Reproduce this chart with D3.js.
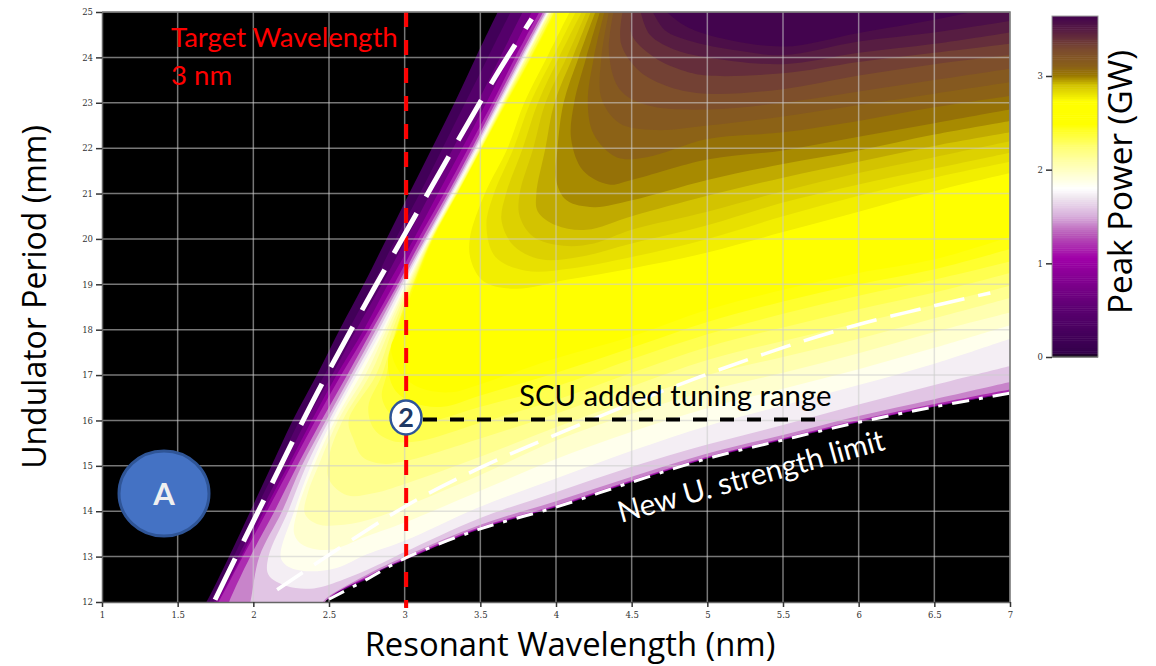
<!DOCTYPE html>
<html>
  <head>
    <meta charset="utf-8">
    <title>Peak power map</title>
    <script src="https://d3js.org/d3.v7.min.js"></script>
    <style>
      html, body { margin: 0; padding: 0; background: #fff; }
      svg { display: block; }
    </style>
  </head>
  <body>
    <script type="text/javascript">
      var xTicks = [1, 1.5, 2, 2.5, 3, 3.5, 4, 4.5, 5, 5.5, 6, 6.5, 7];
      var yTicks = [12, 13, 14, 15, 16, 17, 18, 19, 20, 21, 22, 23, 24, 25];
      var barTicks = [0, 1, 2, 3];

      // colour bar of the figure, power (GW) -> colour
      var barStops = [0, 0.03, 0.5, 1.05, 1.3, 1.5, 1.7, 1.79, 2.0, 2.2, 2.35, 2.48, 2.72, 2.9, 3.0, 3.1, 3.28, 3.46, 3.65];
      var barColors = ['#000000', '#33004a', '#5a0070', '#a000a8', '#b858b8', '#d8b0dc', '#f0e8f0', '#ffffff', '#ffffc0', '#ffff80', '#ffff40', '#ffff00', '#ffff00', '#d0c000', '#9a7800', '#8a6018', '#7a4a30', '#5a2040', '#400050'];

      // contour lines: [wavelength nm, period mm], region above each one has at least that power
      var levels = [0.1, 0.3, 0.55, 0.8, 1.05, 1.3, 1.5, 1.65, 1.8, 1.9, 2.0, 2.1, 2.2, 2.28, 2.35, 2.42, 2.48, 2.75, 2.79, 2.83, 2.87, 2.91, 2.95, 3.0, 3.06, 3.12, 3.2, 3.28, 3.36, 3.44, 3.52, 3.6];

      var p010 = [[3.615,25],[3.47,24],[3.33,23],[3.18,22],[3.03,21],[2.88,20],[2.73,19],[2.57,18],[2.42,17],[2.26,16],[2.12,15],[1.98,14],[1.84,13],[1.69,12],[1.65,11.8],[2.4,11.8],[2.44,12],[2.5,12.06],[2.59,12.25],[2.75,12.5],[2.85,12.7],[3,12.92],[3.5,13.61],[4,14.09],[4.5,14.64],[5,15.16],[5.5,15.57],[6,15.96],[6.5,16.3],[7,16.6]];
      var p030 = [[3.7,25],[3.55,24],[3.4,23],[3.25,22],[3.1,21],[2.94,20],[2.79,19],[2.63,18],[2.47,17],[2.305,16],[2.16,15],[2.01,14],[1.87,13],[1.71,12],[1.67,11.8],[2.4,11.8],[2.45,12],[2.5,12.07],[2.59,12.26],[2.75,12.51],[2.85,12.71],[3,12.925],[3.5,13.615],[4,14.095],[4.5,14.645],[5,15.165],[5.5,15.575],[6,15.965],[6.5,16.305],[7,16.605]];
      var p055 = [[3.78,25],[3.63,24],[3.48,23],[3.32,22],[3.17,21],[3.01,20],[2.85,19],[2.68,18],[2.52,17],[2.35,16],[2.2,15],[2.05,14],[1.9,13],[1.74,12],[1.7,11.8],[2.4,11.8],[2.45,12],[2.5,12.08],[2.59,12.27],[2.75,12.52],[2.85,12.72],[3,12.93],[3.5,13.62],[4,14.1],[4.5,14.65],[5,15.17],[5.5,15.58],[6,15.97],[6.5,16.31],[7,16.61]];
      var p080 = [[3.84,25],[3.69,24],[3.54,23],[3.38,22],[3.22,21],[3.06,20],[2.89,19],[2.73,18],[2.55,17],[2.385,16],[2.23,15],[2.07,14],[1.92,13],[1.76,12],[1.72,11.8],[2.4,11.8],[2.46,12],[2.5,12.08],[2.59,12.28],[2.75,12.53],[2.85,12.73],[3,12.935],[3.5,13.625],[4,14.105],[4.5,14.655],[5,15.175],[5.5,15.585],[6,15.975],[6.5,16.315],[7,16.62]];
      var p105 = [[3.89,25],[3.73,24],[3.58,23],[3.42,22],[3.26,21],[3.09,20],[2.93,19],[2.76,18],[2.58,17],[2.41,16],[2.25,15],[2.09,14],[1.93,13],[1.77,12],[1.73,11.8],[2.4,11.8],[2.46,12],[2.5,12.09],[2.59,12.29],[2.75,12.54],[2.85,12.74],[3,12.94],[3.5,13.63],[4,14.11],[4.5,14.66],[5,15.18],[5.5,15.59],[6,15.98],[6.5,16.32],[7,16.63]];
      var p130 = [[3.915,25],[3.755,24],[3.6,23],[3.445,22],[3.285,21],[3.115,20],[2.955,19],[2.785,18],[2.62,17],[2.45,16],[2.29,15],[2.14,14],[1.98,13],[1.84,12],[1.82,11.8],[2.42,11.8],[2.5,12.1],[2.75,12.56],[3,12.96],[3.5,13.65],[4,14.13],[4.5,14.68],[5,15.2],[5.5,15.61],[6,16.01],[6.5,16.36],[7,16.68]];
      var p150 = [[3.93,25],[3.77,24],[3.615,23],[3.46,22],[3.3,21],[3.135,20],[2.97,19],[2.81,18],[2.645,17],[2.48,16],[2.32,15],[2.19,14],[2.04,13],[1.98,12],[1.96,11.8],[2.4,11.85],[2.5,12.13],[2.75,12.6],[3,13],[3.5,13.7],[4,14.22],[4.5,14.76],[5,15.27],[5.5,15.68],[6,16.1],[6.5,16.47],[7,16.85]];
      var p165 = [[3.94,25],[3.78,24],[3.625,23],[3.47,22],[3.31,21],[3.145,20],[2.985,19],[2.83,18],[2.665,17],[2.5,16],[2.35,15],[2.23,14],[2.1,13],[2.1,12.6],[2.22,12.35],[2.4,12.3],[2.6,12.5],[2.8,12.78],[3,13.1],[3.5,13.85],[4,14.42],[4.5,14.98],[5,15.47],[5.5,15.9],[6,16.35],[6.5,16.78],[7,17.2]];
      var p180 = [[3.945,25],[3.79,24],[3.635,23],[3.48,22],[3.32,21],[3.155,20],[3,19],[2.85,18],[2.685,17],[2.52,16],[2.38,15],[2.27,14],[2.18,13],[2.22,12.8],[2.35,12.68],[2.55,12.75],[2.75,13.05],[3,13.35],[3.5,14.1],[4,14.72],[4.5,15.33],[5,15.88],[5.5,16.33],[6,16.78],[6.5,17.25],[7,17.8]];
      var p190 = [[3.95,25],[3.795,24],[3.64,23],[3.485,22],[3.325,21],[3.16,20],[3.01,19],[2.865,18],[2.71,17],[2.54,16],[2.4,15],[2.29,14],[2.27,13.5],[2.33,13.25],[2.5,13.15],[2.75,13.45],[3,13.75],[3.5,14.45],[4,15.15],[4.5,15.75],[5,16.27],[5.5,16.7],[6,17.13],[6.5,17.6],[7,18.1]];
      var p200 = [[3.955,25],[3.8,24],[3.645,23],[3.49,22],[3.33,21],[3.165,20],[3.02,19],[2.88,18],[2.74,17],[2.56,16],[2.43,15],[2.36,14.4],[2.34,13.95],[2.42,13.72],[2.6,13.7],[2.8,13.85],[3,14.1],[3.5,14.8],[4,15.56],[4.5,16.15],[5,16.65],[5.5,17.05],[6,17.48],[6.5,17.95],[7,18.38]];
      var p210 = [[3.96,25],[3.805,24],[3.65,23],[3.495,22],[3.335,21],[3.17,20],[3.03,19],[2.9,18],[2.77,17],[2.59,16],[2.5,15.2],[2.5,14.7],[2.62,14.35],[2.8,14.4],[3,14.6],[3.5,15.2],[4,15.85],[4.5,16.45],[5,17],[5.5,17.4],[6,17.8],[6.5,18.25],[7,18.7]];
      var p220 = [[3.97,25],[3.815,24],[3.655,23],[3.5,22],[3.34,21],[3.175,20],[3.04,19],[2.92,18],[2.81,17],[2.63,16],[2.66,15.6],[2.72,15.2],[2.84,15.05],[3,15.1],[3.5,15.6],[4,16.15],[4.5,16.75],[5,17.33],[5.5,17.75],[6,18.15],[6.5,18.55],[7,18.97]];
      var p228 = [[3.975,25],[3.82,24],[3.66,23],[3.505,22],[3.345,21],[3.18,20],[3.05,19],[2.94,18],[2.85,17],[2.76,16.3],[2.8,15.8],[2.92,15.55],[3.1,15.55],[3.5,15.95],[4,16.45],[4.5,17.05],[5,17.62],[5.5,18.05],[6,18.45],[6.5,18.82],[7,19.25]];
      var p235 = [[3.985,25],[3.83,24],[3.665,23],[3.505,22],[3.345,21],[3.18,20],[3.055,19],[2.945,18],[2.88,17],[2.85,16.5],[2.92,16.1],[3.05,15.95],[3.2,16],[3.5,16.3],[4,16.75],[4.5,17.35],[5,17.9],[5.5,18.35],[6,18.75],[6.5,19.1],[7,19.5]];
      var p242 = [[3.99,25],[3.835,24],[3.67,23],[3.51,22],[3.35,21],[3.185,20],[3.06,19],[2.95,18],[2.89,17.3],[2.93,16.7],[3.05,16.4],[3.25,16.3],[3.5,16.55],[4,17.05],[4.5,17.6],[5,18.17],[5.5,18.62],[6,19],[6.5,19.33],[7,19.78]];
      var p248 = [[4,25],[3.84,24],[3.675,23],[3.51,22],[3.35,21],[3.19,20],[3.07,19],[2.96,18],[2.91,17.6],[2.97,17.05],[3.1,16.72],[3.3,16.62],[3.5,16.8],[4,17.37],[4.5,17.85],[5,18.44],[5.5,18.88],[6,19.25],[6.5,19.55],[7,20.05]];
      var p275 = [[4.09,25],[3.94,24],[3.79,23],[3.68,22],[3.53,21],[3.43,20],[3.44,19.5],[3.52,19.07],[3.73,18.9],[4.07,19.1],[4.5,19.35],[5,19.7],[5.5,20.15],[6,20.6],[6.5,21.05],[7,21.45]];
      var p279 = [[4.13,25],[3.98,24],[3.83,23],[3.72,22],[3.59,21],[3.54,20.3],[3.6,19.6],[3.8,19.3],[4.1,19.35],[4.5,19.6],[5,20],[5.5,20.5],[6,20.95],[6.5,21.35],[7,21.7]];
      var p283 = [[4.17,25],[4.02,24],[3.88,23],[3.78,22],[3.67,21],[3.64,20.4],[3.72,19.85],[3.9,19.55],[4.15,19.6],[4.5,19.9],[5,20.3],[5.5,20.8],[6,21.2],[6.5,21.55],[7,21.9]];
      var p287 = [[4.2,25],[4.07,24],[3.93,23],[3.85,22],[3.76,21],[3.76,20.5],[3.85,20.05],[4.05,19.85],[4.25,19.9],[4.5,20.2],[5,20.6],[5.5,21.05],[6,21.45],[6.5,21.8],[7,22.15]];
      var p291 = [[4.23,25],[4.11,24],[3.99,23],[3.93,22],[3.87,21],[3.88,20.6],[4,20.3],[4.2,20.2],[4.5,20.5],[5,20.95],[5.5,21.35],[6,21.7],[6.5,22.05],[7,22.35]];
      var p295 = [[4.26,25],[4.15,24],[4.05,23],[4.01,22],[4,21.3],[4.07,20.85],[4.25,20.7],[4.5,20.85],[5,21.3],[5.5,21.65],[6,21.95],[6.5,22.3],[7,22.6]];
      var p300 = [[4.29,25],[4.2,24],[4.12,23],[4.1,22.2],[4.18,21.5],[4.35,21.2],[4.5,21.3],[5,21.75],[5.5,21.95],[6,22.25],[6.5,22.55],[7,22.85]];
      var p306 = [[4.32,25],[4.25,24],[4.21,23],[4.25,22.3],[4.4,21.8],[4.6,21.8],[5,22.2],[5.5,22.35],[6,22.6],[6.5,22.9],[7,23.15]];
      var p312 = [[4.35,25],[4.3,24],[4.3,23.1],[4.42,22.55],[4.65,22.4],[5,22.5],[5.5,22.7],[6,22.95],[6.5,23.2],[7,23.45]];
      var p320 = [[4.38,25],[4.35,24.1],[4.42,23.3],[4.6,22.95],[5,22.85],[5.5,23],[6,23.25],[6.5,23.5],[7,23.75]];
      var p328 = [[4.44,25],[4.43,24.3],[4.55,23.7],[4.75,23.35],[5,23.2],[5.5,23.3],[6,23.6],[6.5,23.85],[7,24.05]];
      var p336 = [[4.5,25],[4.5,24.5],[4.65,24],[4.85,23.7],[5,23.6],[5.5,23.65],[6,23.9],[6.5,24.1],[7,24.3]];
      var p344 = [[4.56,25],[4.62,24.5],[4.8,24.15],[5,24],[5.5,23.85],[6,24.1],[6.5,24.3],[7,24.55]];
      var p352 = [[4.64,25],[4.72,24.6],[4.9,24.35],[5.2,24.15],[5.5,24.05],[6,24.35],[6.5,24.55],[7,24.8]];
      var p360 = [[4.73,25],[4.85,24.7],[5,24.5],[5.5,24.24],[6,24.54],[6.5,24.83],[6.75,25]];
      var isolines = [p010, p030, p055, p080, p105, p130, p150, p165, p180, p190, p200, p210, p220, p228, p235, p242, p248, p275, p279, p283, p287, p291, p295, p300, p306, p312, p320, p328, p336, p344, p352, p360];

      // overlay curves drawn on the figure
      var oldLimit = [[1.747,12.05],[2.07,14.25],[2.46,16.85],[3.1,20.69],[3.6,23.58],[3.84,24.85]];
      var tuningEdge = [[2.157,12.27],[3,14.1],[3.5,14.96],[3.98,15.66],[4.95,16.96],[5.92,18.04],[6.87,18.81]];
      var newLimit = [[2.5,12.06],[2.75,12.5],[3,12.96],[3.5,13.61],[4,14.09],[4.5,14.64],[5,15.16],[5.5,15.57],[6,15.96],[6.5,16.3],[7,16.6]];
      var targetWl = 3;
      var scuPeriod = 16;
      var scuEnd = 5.75;

      var margin = {left: 102, top: 12, right: 1010, bottom: 602};
      var svg = d3.select('body').append('svg').attr('width', 1156).attr('height', 666);

      var x = d3.scaleLinear().domain([1, 7]).range([margin.left, margin.right]);
      var y = d3.scaleLinear().domain([12, 25]).range([margin.bottom, margin.top]);
      var color = d3.scaleLinear().domain(barStops).range(barColors);

      svg.append('clipPath').attr('id', 'plot').append('rect')
        .attr('x', margin.left).attr('y', margin.top)
        .attr('width', margin.right - margin.left).attr('height', margin.bottom - margin.top);

      svg.append('rect')
        .attr('x', margin.left).attr('y', margin.top)
        .attr('width', margin.right - margin.left).attr('height', margin.bottom - margin.top)
        .attr('fill', '#000');

      var line = d3.line()
        .x(function (d) { return x(d[0]); })
        .y(function (d) { return y(d[1]); })
        .curve(d3.curveCatmullRom.alpha(0.5));

      var field = svg.append('g').attr('clip-path', 'url(#plot)');
      field.selectAll('path')
        .data(isolines)
        .enter()
        .append('path')
        .attr('d', function (d) {
          // close through the top right corner of the plot
          return line(d) + 'L' + x(7.05) + ',' + y(d[d.length - 1][1]) + 'L' + x(7.05) + ',' + y(25.1) + 'L' + x(d[0][0]) + ',' + y(25.1) + 'Z';
        })
        .attr('fill', function (d, i) {
          // a band sits between two levels, colour it by the middle
          var next = i < levels.length - 1 ? levels[i + 1] : 3.65;
          return color((levels[i] + next) / 2);
        });

      // grid
      var grid = svg.append('g').attr('stroke', 'rgba(205,205,205,0.58)').attr('stroke-width', 1.5);
      grid.selectAll('.gx').data(xTicks.slice(1)).enter().append('line')
        .attr('x1', function (d) { return x(d); }).attr('x2', function (d) { return x(d); })
        .attr('y1', margin.top).attr('y2', margin.bottom);
      grid.selectAll('.gy').data(yTicks.slice(1)).enter().append('line')
        .attr('y1', function (d) { return y(d); }).attr('y2', function (d) { return y(d); })
        .attr('x1', margin.left).attr('x2', margin.right);

      // axes
      var xAxis = d3.axisBottom(x).tickValues(xTicks).tickSize(5).tickSizeOuter(0).tickFormat(d3.format('~g'));
      var yAxis = d3.axisLeft(y).tickValues(yTicks).tickSize(6).tickSizeOuter(0).tickFormat(d3.format('d'));
      var gx = svg.append('g').attr('transform', 'translate(0,' + margin.bottom + ')').call(xAxis);
      var gy = svg.append('g').attr('transform', 'translate(' + margin.left + ',0)').call(yAxis);
      [gx, gy].forEach(function (g) {
        g.selectAll('text').attr('font-family', '"DejaVu Serif"').attr('font-size', 8.5).attr('fill', '#333');
        g.selectAll('line').attr('stroke', '#333').attr('stroke-width', 1.5);
        g.select('.domain').attr('stroke', '#666').attr('stroke-width', 1.5);
      });
      gx.selectAll('text').attr('dy', '0.9em');

      // red target line
      svg.append('line')
        .attr('x1', x(targetWl) + 1.5).attr('x2', x(targetWl) + 1.5)
        .attr('y1', margin.top).attr('y2', 608)
        .attr('stroke', '#ff0000').attr('stroke-width', 4).attr('stroke-dasharray', '15,13');

      svg.append('path').attr('d', line(oldLimit)).attr('fill', 'none')
        .attr('stroke', '#fff').attr('stroke-width', 5).attr('stroke-dasharray', '46,19');
      svg.append('path').attr('d', line(tuningEdge)).attr('fill', 'none')
        .attr('stroke', '#fff').attr('stroke-width', 3.5).attr('stroke-dasharray', '31,14');
      svg.append('path').attr('d', line(newLimit)).attr('fill', 'none')
        .attr('stroke', '#fff').attr('stroke-width', 3).attr('stroke-dasharray', '17,10,4,10');

      svg.append('line')
        .attr('x1', 423).attr('x2', x(scuEnd))
        .attr('y1', y(scuPeriod) - 1).attr('y2', y(scuPeriod) - 1)
        .attr('stroke', '#000').attr('stroke-width', 4).attr('stroke-dasharray', '14,13');

      // markers
      svg.append('ellipse').attr('cx', 164).attr('cy', 493.5).attr('rx', 45).attr('ry', 42.5)
        .attr('fill', '#4472c4').attr('stroke', '#2f5597').attr('stroke-width', 3);
      svg.append('text').attr('x', 164).attr('y', 505).attr('text-anchor', 'middle')
        .attr('font-family', 'Lato').attr('font-weight', 700).attr('font-size', 31).attr('fill', '#f0f0f0').text('A');

      svg.append('ellipse').attr('cx', 406).attr('cy', 417.5).attr('rx', 15.5).attr('ry', 17)
        .attr('fill', '#fff').attr('stroke', '#2f5597').attr('stroke-width', 2.5);
      svg.append('text').attr('x', 406).attr('y', 427).attr('text-anchor', 'middle')
        .attr('font-family', 'Lato').attr('font-weight', 700).attr('font-size', 27).attr('fill', '#1f3864').text('2');

      // annotations
      function label(txt, tx, ty, size, fill, family) {
        return svg.append('text').attr('x', tx).attr('y', ty)
          .attr('font-family', family || 'Lato').attr('font-size', size).attr('fill', fill).text(txt);
      }
      label('Target Wavelength', 171, 47, 27.6, '#ff0000');
      label('3 nm', 171, 85, 27.6, '#ff0000');
      label('SCU added tuning range', 519, 406, 29.3, '#000');
      label('New U. strength limit', 0, 0, 29.6, '#fff')
        .attr('transform', 'translate(621,523) rotate(-15.5)');

      label('Resonant Wavelength (nm)', 570, 656, 32.8, '#000', '"Open Sans"').attr('text-anchor', 'middle');
      label('Undulator Period (mm)', 0, 0, 32, '#000', '"Open Sans"').attr('text-anchor', 'middle')
        .attr('transform', 'translate(46,297) rotate(-90)');
      label('Peak Power (GW)', 0, 0, 33.2, '#000', '"Open Sans"').attr('text-anchor', 'middle')
        .attr('transform', 'translate(1132,182) rotate(-90)');

      // colour bar
      var barY = d3.scaleLinear().domain([0, 3]).range([357, 76]);
      var barX = 1052, barW = 46;
      var steps = d3.range(0, 3.64, 0.02);
      svg.append('g').selectAll('rect').data(steps).enter().append('rect')
        .attr('x', barX).attr('width', barW)
        .attr('y', function (d) { return barY(d + 0.02); })
        .attr('height', function (d) { return barY(d) - barY(d + 0.02) + 0.5; })
        .attr('fill', function (d) { return color(d); });
      svg.append('rect').attr('x', barX).attr('y', barY(3.64)).attr('width', barW).attr('height', barY(0) - barY(3.64))
        .attr('fill', 'none').attr('stroke', '#999').attr('stroke-width', 1);
      var gb = svg.append('g').attr('transform', 'translate(' + barX + ',0)')
        .call(d3.axisLeft(barY).tickValues(barTicks).tickSize(6).tickSizeOuter(0).tickFormat(d3.format('d')));
      gb.selectAll('text').attr('font-family', '"DejaVu Serif"').attr('font-size', 8.5).attr('fill', '#333');
      gb.selectAll('line').attr('stroke', '#333').attr('stroke-width', 1.5);
      gb.select('.domain').remove();

      // frame
      svg.append('path')
        .attr('d', 'M' + margin.left + ',' + margin.top + 'H' + margin.right + 'V' + margin.bottom)
        .attr('fill', 'none').attr('stroke', '#777').attr('stroke-width', 1.5);
    </script>
  </body>
</html>
